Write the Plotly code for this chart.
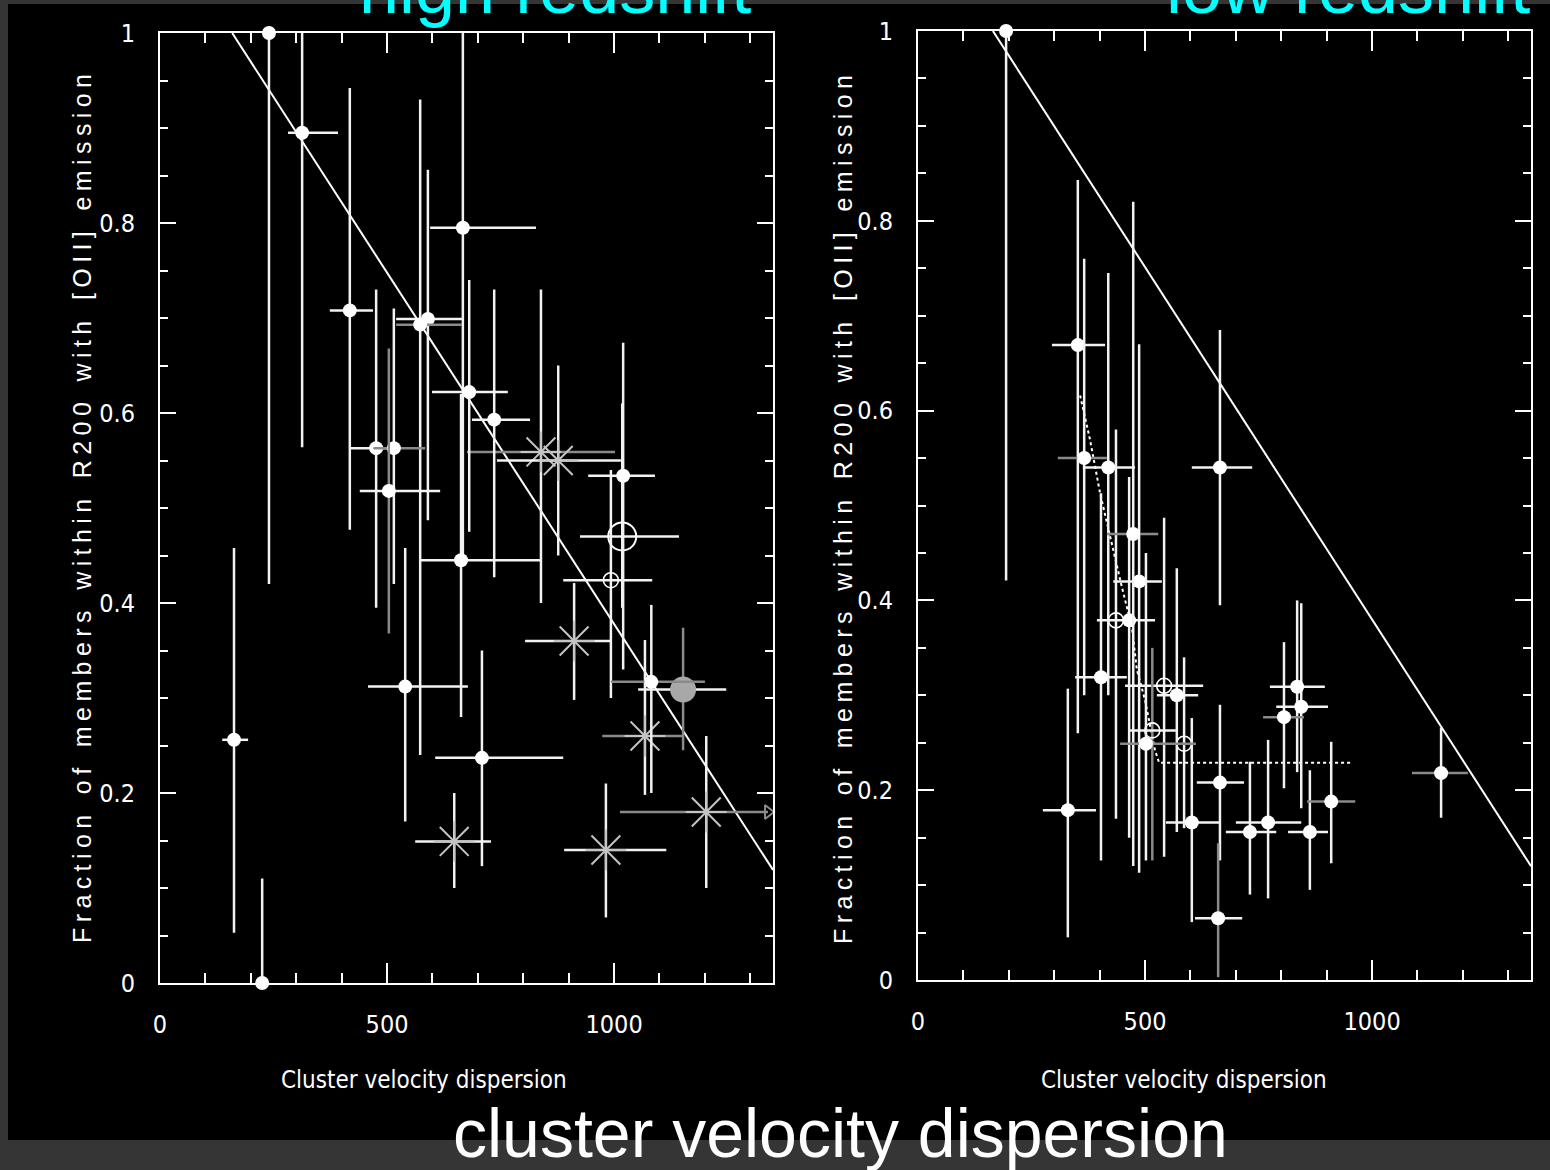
import plotly.graph_objects as go

# ---------------- data: high redshift panel ----------------
hz_x    = [240, 313, 418, 667, 573, 590, 681, 736, 476, 515, 504, 663, 540, 709, 163, 225,
           1020, 1082, 1152, 1018, 993, 839, 877, 912, 1068, 648, 982, 1203]
hz_y    = [1.0, 0.895, 0.708, 0.795, 0.693, 0.699, 0.622, 0.593, 0.563, 0.563, 0.518, 0.445,
           0.312, 0.237, 0.256, 0.0, 0.534, 0.317, 0.309, 0.47, 0.424, 0.559, 0.55, 0.36,
           0.26, 0.149, 0.14, 0.18]
hz_xlo  = [240, 282, 374, 595, 520, 520, 599, 687, 418, 470, 440, 573, 458, 606, 137, 225,
           943, 993, 1053, 925, 888, 676, 742, 804, 974, 562, 890, 1013]
hz_xhi  = [240, 392, 469, 828, 665, 665, 766, 815, 530, 584, 617, 837, 678, 888, 194, 225,
           1090, 1200, 1247, 1143, 1084, 1002, 1015, 991, 1154, 729, 1115, 1339]
hz_ylo  = [0.42, 0.564, 0.477, 0.45, 0.24, 0.487, 0.475, 0.427, 0.395, 0.42, 0.368, 0.28,
           0.17, 0.123, 0.053, 0.0, 0.33, 0.2, 0.245, 0.395, 0.30, 0.40, 0.45, 0.298,
           0.198, 0.10, 0.069, 0.10]
hz_yhi  = [1.0, 1.0, 0.942, 1.0, 0.93, 0.856, 0.74, 0.73, 0.73, 0.71, 0.668, 0.62,
           0.458, 0.35, 0.458, 0.11, 0.674, 0.398, 0.374, 0.61, 0.54, 0.73, 0.65, 0.421,
           0.361, 0.20, 0.21, 0.26]
hz_kind = ["dot"] * 18 + ["dotgray", "ring", "ring_s"] + ["star"] * 7
hz_xbar = ["w", "w", "w", "w", "g", "w", "w", "w", "w", "g", "w", "w", "w", "w", "w", "w",
           "w", "g", "w", "w", "w", "g", "w", "w", "g", "w", "w", "g"]
hz_ybar = ["w"] * 10 + ["g"] + ["w"] * 7 + ["g"] + ["w"] * 9
hz_limit = [27]                     # lower limit (arrow) points
hz_line_x = [159, 1350]
hz_line_y = [1.0, 0.119]

# ---------------- data: low redshift panel ----------------
lz_x    = [194, 352, 366, 419, 474, 487, 436, 465, 403, 542, 570, 502, 516, 586, 330, 665,
           603, 661, 731, 771, 806, 835, 844, 863, 910, 1152, 665]
lz_y    = [1.0, 0.669, 0.55, 0.54, 0.47, 0.42, 0.379, 0.379, 0.319, 0.31, 0.30, 0.249,
           0.263, 0.249, 0.179, 0.208, 0.166, 0.065, 0.156, 0.166, 0.277, 0.309, 0.288,
           0.156, 0.188, 0.218, 0.54]
lz_xlo  = [194, 295, 308, 363, 416, 430, 436, 394, 346, 456, 526, 445, 463, 586, 275, 614,
           546, 610, 678, 700, 760, 775, 789, 815, 857, 1088, 603]
lz_xhi  = [194, 412, 416, 478, 529, 537, 436, 522, 460, 628, 617, 612, 568, 586, 392, 718,
           665, 714, 789, 844, 850, 896, 903, 903, 963, 1211, 736]
lz_ylo  = [0.421, 0.26, 0.30, 0.30, 0.12, 0.113, 0.17, 0.15, 0.126, 0.13, 0.156, 0.126,
           0.126, 0.16, 0.045, 0.126, 0.061, 0.003, 0.09, 0.086, 0.202, 0.219, 0.181,
           0.095, 0.123, 0.171, 0.395]
lz_yhi  = [1.0, 0.843, 0.76, 0.745, 0.82, 0.67, 0.58, 0.53, 0.513, 0.487, 0.434, 0.45,
           0.35, 0.34, 0.307, 0.29, 0.276, 0.144, 0.23, 0.253, 0.356, 0.40, 0.397,
           0.221, 0.251, 0.266, 0.685]
lz_kind = ["dot"] * 6 + ["ring_s", "dot", "dot", "ring_s", "dot", "dot", "ring_s", "ring_s"] + ["dot"] * 13
lz_xbar = ["w", "w", "g", "w", "g", "w", "w", "w", "w", "w", "w", "g", "w", "w", "w", "w",
           "w", "w", "w", "w", "g", "w", "w", "w", "g", "g", "w"]
lz_ybar = ["w"] * 12 + ["g", "w", "w", "w", "w", "g"] + ["w"] * 9
lz_line_x = [165, 1350]
lz_line_y = [1.0, 0.12]
lz_fit_x = [357, 379, 401, 423, 449, 471, 482, 500, 522, 531, 952]
lz_fit_y = [0.616, 0.569, 0.513, 0.467, 0.414, 0.372, 0.327, 0.295, 0.242, 0.229, 0.229]

x_ticks = [0, 500, 1000]
x_ticktext = ["0", "500", "1000"]
y_ticks = [0, 0.2, 0.4, 0.6, 0.8, 1]
y_ticktext = ["0", "0.2", "0.4", "0.6", "0.8", "1"]

title_left = "high redshift"
title_right = "low redshift"
x_title = "Cluster velocity dispersion"
y_title = "Fraction of members within R200 with [OII] emission"
bottom_text = "cluster velocity dispersion"

# ---------------- styling ----------------
W, H = 1550, 1170
NARROW = "DejaVu Sans Condensed, Liberation Sans Narrow, sans-serif"
SANS = "Liberation Sans, Arial, sans-serif"
BAR = {"w": "#f2f2f2", "g": "#8a8a8a"}
STAR = "#c4c4c4"
MARKERS = {
    "dot": dict(symbol="circle", size=14, color="white"),
    "dotgray": dict(symbol="circle", size=26, color="#a8a8a8"),
    "ring": dict(symbol="circle-open", size=28, color="white", line=dict(width=2, color="white")),
    "ring_s": dict(symbol="circle-open", size=15, color="white", line=dict(width=1.6, color="white")),
    "star": dict(symbol="asterisk-open", size=34, color=STAR, line=dict(width=2, color=STAR)),
}
ORDER = ["star", "ring", "ring_s", "dotgray", "dot"]

fig = go.Figure()


def add_panel(xa, ya, xs, ys, xlo, xhi, ylo, yhi, kind, xbar, ybar, lx, ly):
    fig.add_trace(go.Scatter(x=lx, y=ly, mode="lines", xaxis=xa, yaxis=ya,
                             line=dict(color="white", width=2), showlegend=False,
                             hoverinfo="skip"))
    groups = {}
    for i in range(len(xs)):
        groups.setdefault((kind[i], xbar[i], ybar[i]), []).append(i)
    keys = sorted(groups.keys(), key=lambda k: ORDER.index(k[0]))
    for (k, xb, yb) in keys:
        idx = groups[(k, xb, yb)]
        fig.add_trace(go.Scatter(
            x=[xs[i] for i in idx], y=[ys[i] for i in idx], mode="markers",
            xaxis=xa, yaxis=ya, marker=MARKERS[k], showlegend=False, cliponaxis=False,
            error_x=dict(type="data", symmetric=False,
                         array=[xhi[i] - xs[i] for i in idx],
                         arrayminus=[xs[i] - xlo[i] for i in idx],
                         color=BAR[xb], thickness=2.5, width=0),
            error_y=dict(type="data", symmetric=False,
                         array=[yhi[i] - ys[i] for i in idx],
                         arrayminus=[ys[i] - ylo[i] for i in idx],
                         color=BAR[yb], thickness=2.5, width=0),
        ))


add_panel("x", "y", hz_x, hz_y, hz_xlo, hz_xhi, hz_ylo, hz_yhi, hz_kind, hz_xbar, hz_ybar,
          hz_line_x, hz_line_y)
fig.add_trace(go.Scatter(x=[hz_xhi[i] for i in hz_limit], y=[hz_y[i] for i in hz_limit],
                         mode="markers", xaxis="x", yaxis="y", showlegend=False, cliponaxis=False,
                         marker=dict(symbol="triangle-right-open", size=12, color=BAR["g"],
                                     line=dict(width=2, color=BAR["g"]))))

fig.add_trace(go.Scatter(x=lz_fit_x, y=lz_fit_y, mode="lines", xaxis="x2", yaxis="y2",
                         line=dict(color="white", width=2, dash="dot"), showlegend=False))
add_panel("x2", "y2", lz_x, lz_y, lz_xlo, lz_xhi, lz_ylo, lz_yhi, lz_kind, lz_xbar, lz_ybar,
          lz_line_x, lz_line_y)


def xaxis(dom, anchor):
    return dict(domain=dom, anchor=anchor, range=[0, 1350], showgrid=False, zeroline=False,
                automargin=False,
                showline=True, linecolor="white", linewidth=2, mirror="ticks",
                ticks="inside", ticklen=20, tickwidth=2, tickcolor="white",
                tickvals=x_ticks, ticktext=x_ticktext,
                minor=dict(ticks="inside", dtick=100, tick0=0, ticklen=10, tickwidth=2,
                           tickcolor="white", showgrid=False),
                tickfont=dict(family=NARROW, size=25, color="white"), ticklabelstandoff=18)


def yaxis(dom, anchor):
    return dict(domain=dom, anchor=anchor, range=[0, 1], showgrid=False, zeroline=False,
                automargin=False,
                showline=True, linecolor="white", linewidth=2, mirror="ticks",
                ticks="inside", ticklen=16, tickwidth=2, tickcolor="white",
                tickvals=y_ticks, ticktext=y_ticktext,
                minor=dict(ticks="inside", dtick=0.05, tick0=0, ticklen=8, tickwidth=2,
                           tickcolor="white", showgrid=False),
                tickfont=dict(family=NARROW, size=25, color="white"), ticklabelstandoff=18)


def ann(text, x, y, size, color="white", family=SANS, angle=0):
    return dict(text=text, x=x, y=y, xref="paper", yref="paper", xanchor="center",
                yanchor="middle", showarrow=False, textangle=angle,
                font=dict(size=size, color=color, family=family))


spaced = '<span style="letter-spacing:5.4px;word-spacing:3px">' + y_title + "</span>"

fig.update_layout(
    template="none",
    width=W, height=H, margin=dict(l=0, r=0, t=0, b=0, pad=0, autoexpand=False),
    paper_bgcolor="#353535", plot_bgcolor="black", showlegend=False,
    xaxis=xaxis([160 / W, 773 / W], "y"),
    yaxis=yaxis([1 - 983 / H, 1 - 33 / H], "x"),
    xaxis2=xaxis([918 / W, 1531 / W], "y2"),
    yaxis2=yaxis([1 - 980 / H, 1 - 31 / H], "x2"),
    shapes=[dict(type="rect", xref="paper", yref="paper", x0=8 / W, x1=1, y0=1 - 1140 / H,
                 y1=1 - 4 / H, fillcolor="black", line=dict(width=0), layer="below")],
    annotations=[
        ann(title_left, 555 / W, 1 + 12 / H, 72, color="#00ffff"),
        ann(title_right, 1348 / W, 1 + 12 / H, 72, color="#00ffff"),
        ann(x_title, 424 / W, 1 - 1080 / H, 24, family=NARROW),
        ann(x_title, 1184 / W, 1 - 1080 / H, 24, family=NARROW),
        ann(spaced, 82 / W, 1 - 506 / H, 25, angle=-90),
        ann(spaced, 843 / W, 1 - 507 / H, 25, angle=-90),
        ann(bottom_text, 840 / W, 1 - 1133 / H, 68),
    ],
)

fig.write_html("out.html")
